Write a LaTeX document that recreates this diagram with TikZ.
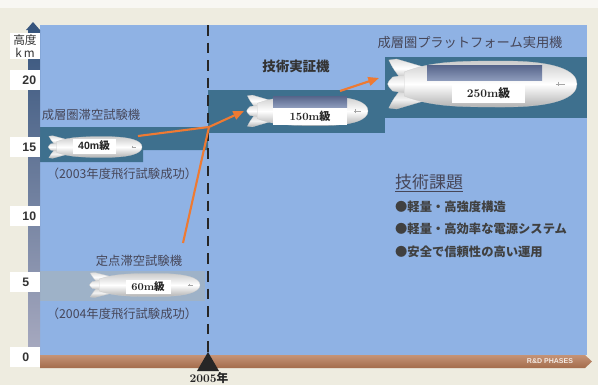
\documentclass[tikz,border=0pt]{standalone}
\usepackage{fontspec}
\setsansfont{Liberation Sans}
\newfontfamily\cjk{Noto Sans CJK JP}
\usetikzlibrary{arrows.meta, positioning}
\usepackage{xcolor}

\definecolor{paper}{RGB}{238,236,224}
\definecolor{skyblue}{RGB}{143,178,228}
\definecolor{bandteal}{RGB}{62,112,142}
\definecolor{bandgrey}{RGB}{158,178,200}
\definecolor{textgrey}{RGB}{70,70,88}
\definecolor{flightorange}{RGB}{238,122,50}
\definecolor{earth}{RGB}{182,120,84}
\definecolor{axistop}{RGB}{55,85,125}
\definecolor{axisbottom}{RGB}{168,170,192}
\definecolor{cellsdark}{RGB}{86,100,138}
\definecolor{cellslight}{RGB}{140,154,186}

\tikzset{
  airship/.pic = {
    % tail fins
    \shade[top color=gray!25, bottom color=gray!50, middle color=white, draw=gray!40, line width=0.2pt]
      (22,-8) .. controls (14,-10) .. (6,-12.5) -- (2,-12) .. controls (4,-8) .. (8,-3) -- cycle;
    \shade[top color=gray!35, bottom color=gray!60, middle color=white!90!gray, draw=gray!40, line width=0.2pt]
      (22,8) .. controls (14,10) .. (6,12.5) -- (2,12) .. controls (4,8) .. (8,3) -- cycle;
    \shade[top color=gray!30, bottom color=gray!55, middle color=white, draw=gray!40, line width=0.2pt]
      (14,-5) -- (4,-3.5) .. controls (0.5,0) .. (4,3.5) -- (14,5) -- cycle;
    % hull
    \shade[top color=gray!40, bottom color=gray!60, middle color=white, draw=gray!40, line width=0.2pt]
      (10,-6) .. controls (24,-11.5) and (40,-11.5) .. (62,-11.5)
      .. controls (88,-11.5) and (100,-7) .. (100,0)
      .. controls (100,7) and (88,11.5) .. (62,11.5)
      .. controls (40,11.5) and (24,11.5) .. (10,6) -- cycle;
    % rudder mark near the nose
    \draw[gray!70, line width=0.5pt] (89,0) -- (94,0) (90,-1.2) -- (90,1.2);
  }
}

\begin{document}
\begin{tikzpicture}[x=0.03cm, y=-0.03cm,
    band/.style = {fill=bandteal, draw=none},
    ticklabel/.style = {fill=white, anchor=west, inner sep=0pt, minimum height=20*0.03cm,
                        minimum width=30*0.03cm, text width=22*0.03cm, align=left,
                        font=\sffamily\bfseries\fontsize{10.5}{12}\selectfont, text=black!80},
    sizelabel/.style = {fill=white, inner sep=0pt, align=center, font=\bfseries, text=black!85},
    panel/.style = {top color=cellsdark, bottom color=cellslight, draw=none},
    caption/.style = {font=\cjk\fontsize{10.5}{12}\selectfont, text=textgrey},
    item/.style = {anchor=west, font=\cjk\bfseries\fontsize{10.5}{12}\selectfont, text=black!75},
    flight/.style = {draw=flightorange, line width=1.8pt},
    flightarrow/.style = {flight, -{Triangle[length=3.2mm, width=2.6mm]}}
]

% paper and panel
\useasboundingbox (0,0) rectangle (598,385);
\fill[paper] (0,0) rectangle (598,385);
\fill[white!60!paper] (0,0) rectangle (598,8);
\fill[skyblue] (40,25) rectangle (587,355);

% altitude bands
\fill[band] (40,127) -- (208,127) -- (208,150) -- (143,150) -- (143,162) -- (40,162) -- cycle;
\fill[band] (208,90) rectangle (385,133);
\fill[band] (385,57) rectangle (587,118);
\fill[bandgrey] (40,271) rectangle (205,301);

% altitude axis
\shade[top color=axistop, bottom color=axisbottom] (28,30) rectangle (40,355);
\fill[axistop] (26,30) -- (33,22) -- (40,30) -- cycle;
\node[fill=white, inner sep=1pt, minimum width=30*0.03cm, align=center,
      font=\cjk\fontsize{10}{11}\selectfont, text=black!80] (unit) at (25,46) {高度\\k\,m};
\node[ticklabel] (t20) at (10,80) {\hspace*{7pt}20};
\node[ticklabel] (t15) at (10,147) {\hspace*{7pt}15};
\node[ticklabel] (t10) at (10,216) {\hspace*{7pt}10};
\node[ticklabel] (t5) at (10,282) {\hspace*{7pt}5};
\node[ticklabel] (t0) at (10,357) {\hspace*{7pt}0};

% R&D phases bar
\shade[top color=earth!80!white, bottom color=earth!90!black]
  (40,355) -- (585,355) -- (592,361.5) -- (585,368) -- (40,368) -- cycle;
\node[font=\sffamily\bfseries\fontsize{6}{7}\selectfont, text=white!85!earth] (phases) at (550,361.5) {R\&D PHASES};

% 2005 marker
\coordinate (top2005) at (208,25);
\fill[black!85] (197,371) -- (208,352) -- (219,371) -- cycle;
\coordinate (mark2005) at (208,352);
\draw[black!85, line width=2.4pt, dash pattern=on 9pt off 6pt] (top2005) -- (mark2005);
\node[font=\bfseries\fontsize{10}{12}\selectfont, text=black!85] (year) at (209,378) {2005{\cjk 年}};

% airships
\pic[xscale=0.95, yscale=0.9] at (47,147) {airship};
\pic[xscale=1.12, yscale=1.0] at (88,285) {airship};
\pic[xscale=1.23, yscale=1.27] at (245,111) {airship};
\pic[xscale=1.92, yscale=2.0] at (385,84) {airship};

% solar panels
\fill[panel] (273,96) rectangle (347,107);
\fill[panel] (427,65) rectangle (542,80);

% size labels
\node[sizelabel, minimum width=43*0.03cm, minimum height=15*0.03cm, font=\sffamily\bfseries\fontsize{9}{10}\selectfont] (s40) at (94,146) {40m{\cjk 級}};
\node[sizelabel, minimum width=45*0.03cm, minimum height=14*0.03cm, font=\bfseries\fontsize{9}{10}\selectfont] (s60) at (148,287) {60m{\cjk 級}};
\node[sizelabel, minimum width=74*0.03cm, minimum height=17*0.03cm, font=\bfseries\fontsize{9.5}{10}\selectfont] (s150) at (310,116.5) {150m{\cjk 級}};
\node[sizelabel, minimum width=73*0.03cm, minimum height=18*0.03cm, font=\bfseries\fontsize{10}{11}\selectfont] (s250) at (488.5,93.5) {250m{\cjk 級}};

% names and flight records
\node[caption] (name40) at (91,115) {成層圏滞空試験機};
\node[caption] (rec2003) at (122,174) {（2003年度飛行試験成功）};
\node[caption] (name60) at (139,261) {定点滞空試験機};
\node[caption] (rec2004) at (122,314) {（2004年度飛行試験成功）};
\node[font=\cjk\bfseries\fontsize{11.5}{13}\selectfont, text=black!80] (name150) at (296,66) {技術実証機};
\node[caption, font=\cjk\fontsize{11.3}{13}\selectfont] (name250) at (470,43) {成層圏プラットフォーム実用機};

% development path
\coordinate (from40) at (138,136);
\coordinate (from60) at (183,243);
\coordinate (join) at (209,127);
\coordinate (to150) at (244,111);
\coordinate (from150) at (340,91);
\coordinate (to250) at (379,78);
\draw[flight] (from40) -- (join);
\draw[flight] (from60) -- (join);
\draw[flightarrow] (join) -- (to150);
\draw[flightarrow] (from150) -- (to250);

% technical issues
\node[anchor=west, font=\cjk\fontsize{14.5}{16}\selectfont, text=textgrey] (issues) at (391,183) {\underline{技術課題}};
\node[item] (issue1) at (391,207) {●軽量・高強度構造};
\node[item] (issue2) at (391,229) {●軽量・高効率な電源システム};
\node[item] (issue3) at (391,252) {●安全で信頼性の高い運用};

\end{tikzpicture}
\end{document}
